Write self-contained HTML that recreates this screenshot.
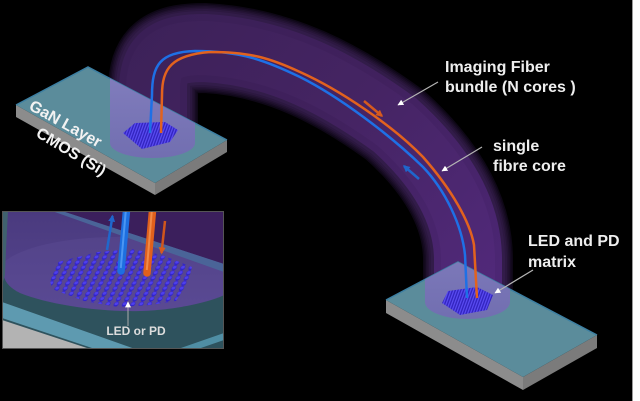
<!DOCTYPE html>
<html><head><meta charset="utf-8">
<style>
html,body{margin:0;padding:0;background:#000;}
svg{display:block;}
text{font-family:"Liberation Sans",sans-serif;font-weight:bold;}
</style></head><body>
<svg width="640" height="401" viewBox="0 0 640 401" xmlns="http://www.w3.org/2000/svg">
<defs>
<linearGradient id="tg" gradientUnits="userSpaceOnUse" x1="150" y1="0" x2="480" y2="300">
<stop offset="0" stop-color="#391f55"/><stop offset="0.5" stop-color="#41215e"/><stop offset="1" stop-color="#4c2674"/>
</linearGradient>
<linearGradient id="tg2" gradientUnits="userSpaceOnUse" x1="150" y1="0" x2="480" y2="300">
<stop offset="0" stop-color="#3c2158"/><stop offset="0.5" stop-color="#452463"/><stop offset="1" stop-color="#51297a"/>
</linearGradient>
<linearGradient id="cylg" x1="0" y1="0" x2="0" y2="1">
<stop offset="0" stop-color="#4a3a7e"/><stop offset="1" stop-color="#564690"/>
</linearGradient>
<linearGradient id="lav" x1="0" y1="0" x2="0" y2="1">
<stop offset="0" stop-color="#8a82c4"/><stop offset="1" stop-color="#736cb2"/>
</linearGradient>
<clipPath id="lp"><polygon points="88,67 227,140 155,183 16,105"/></clipPath>
<clipPath id="rp"><polygon points="458,262 597,335 523,377 386,300"/></clipPath>
<clipPath id="ic"><rect x="2" y="211" width="222" height="138"/></clipPath>
<pattern id="hatch" patternUnits="userSpaceOnUse" width="2.6" height="4" patternTransform="rotate(20)">
<rect width="2.6" height="4" fill="#3325c0"/><rect width="1.2" height="4" fill="#5a4cf2"/>
</pattern>
<pattern id="dots" patternUnits="userSpaceOnUse" width="8.3" height="5.2" patternTransform="translate(3,0) skewX(-24.7)">
<ellipse cx="4.1" cy="2.6" rx="2.4" ry="2.6" fill="#3123cc"/>
<ellipse cx="4.1" cy="2.1" rx="1.8" ry="1.5" fill="#4f40ec"/>
</pattern>
<marker id="mw" viewBox="0 0 10 10" refX="9" refY="5" markerUnits="userSpaceOnUse" markerWidth="6" markerHeight="6" orient="auto"><path d="M0,0 L10,5 L0,10 z" fill="#ffffff"/></marker>
<marker id="mo" viewBox="0 0 10 10" refX="8" refY="5" markerUnits="userSpaceOnUse" markerWidth="7" markerHeight="7" orient="auto"><path d="M0,0 L10,5 L0,10 z" fill="#d65a1e"/></marker>
<marker id="mb" viewBox="0 0 10 10" refX="8" refY="5" markerUnits="userSpaceOnUse" markerWidth="7" markerHeight="7" orient="auto"><path d="M0,0 L10,5 L0,10 z" fill="#1f66cc"/></marker>
<path id="tube" d="M153,140 L153,90 C153,55 170,48 205,48 C280,52 340,85 395,125 C445,170 468,215 468,260 L468,300" fill="none"/>
</defs>

<rect x="0" y="0" width="640" height="401" fill="#000"/>

<!-- tube (layered soft edge) -->
<g fill="none">
<use href="#tube" stroke="#0e0716" stroke-width="90"/>
<use href="#tube" stroke="#160b22" stroke-width="87"/>
<use href="#tube" stroke="#1e102c" stroke-width="84"/>
<use href="#tube" stroke="#251436" stroke-width="81"/>
<use href="#tube" stroke="#2c1840" stroke-width="78"/>
<use href="#tube" stroke="#321c49" stroke-width="74"/>
<use href="#tube" stroke="url(#tg)" stroke-width="68"/>
<use href="#tube" stroke="url(#tg2)" stroke-width="54"/>
</g>

<!-- left plate -->
<polygon points="16,105 155,183 155,195 16,117" fill="#8c8c8c"/>
<polygon points="155,183 227,140 227,152 155,195" fill="#7b7b7b"/>
<polygon points="88,67 227,140 155,183 16,105" fill="#5b8c9b"/>
<polyline points="16,105 88,67 227,140" fill="none" stroke="#3c7fa2" stroke-width="1.5"/>

<!-- right plate -->
<polygon points="386,300 523,377 523,390 386,313" fill="#8c8c8c"/>
<polygon points="523,377 597,335 597,348 523,390" fill="#7b7b7b"/>
<polygon points="458,262 597,335 523,377 386,300" fill="#5b8c9b"/>
<polyline points="386,300 458,262 597,335" fill="none" stroke="#3c7fa2" stroke-width="1.5"/>

<!-- lavender cylinder feet over plates -->
<g clip-path="url(#lp)"><path d="M110,40 L195,40 L195,143 A42.5,15 0 0 1 110,143 Z" fill="url(#lav)" opacity="0.93"/></g>
<g clip-path="url(#rp)"><path d="M425,200 L510,200 L510,302 A42.5,17 0 0 1 425,302 Z" fill="url(#lav)" opacity="0.93"/></g>

<!-- LED hexagons -->
<polygon points="123,133 135,123 165,122 178,130 170,142 142,149" fill="url(#hatch)"/>
<polygon points="442,303 448,291 477,287 493,295 487,310 460,315" fill="url(#hatch)"/>

<!-- fibers -->
<path d="M150,133 L152,95 C152,65 160,52 195,51 C240,51 265,60 300,77 C340,97 390,135 423,167 C445,190 462,225 465,255 L467,298" fill="none" stroke="#1e70e6" stroke-width="2.5"/>
<path d="M161,133 L162,95 C162,68 172,55 210,52 C250,52 270,58 300,72 C340,90 392,125 423,157 C452,190 470,222 474,245 L477,298" fill="none" stroke="#e2621e" stroke-width="2.5"/>

<!-- direction arrows on tube -->
<line x1="364" y1="101" x2="382" y2="116" stroke="#d65a1e" stroke-width="2.5" marker-end="url(#mo)"/>
<line x1="419" y1="179" x2="404" y2="166" stroke="#1f66cc" stroke-width="2.5" marker-end="url(#mb)"/>

<!-- inset -->
<g clip-path="url(#ic)">
<rect x="2" y="211" width="222" height="138" fill="#2e525d"/>
<path d="M7,211 L224,211 L224,295 C215,300 180,310 140,311 C100,312 50,305 20,293 C10,288 4,282 3,272 L4,240 Z" fill="url(#cylg)"/>
<path d="M4,262 C20,248 60,238 110,237 C160,236 200,240 224,246 L224,295 C215,300 180,310 140,311 C100,312 50,305 20,293 C10,288 4,282 3,272 Z" fill="#62529a" opacity="0.3"/>
<polygon points="62,211 224,211 224,264" fill="#3b1f5c"/>
<polygon points="52,211 62,211 224,264 224,272" fill="#4a6498"/>
<polygon points="2,211 8,211 6,250 5,275 2,285" fill="#40616e"/>
<polygon points="2,302 135,349 95,349 2,318" fill="#5e9ab0"/>
<polygon points="2,320 90,349 2,349" fill="#b3b3b3"/>
<polygon points="178,349 224,333 224,340 198,349" fill="#4f8ea4"/>
<polygon points="58,262 98,252 132,249 162,255 192,267 188,282 176,301 150,305 118,307 84,301 52,289 50,281" fill="url(#dots)"/>
<line x1="127" y1="205" x2="121" y2="271" stroke="#1d6fe0" stroke-width="7.5" stroke-linecap="round"/>
<line x1="126.3" y1="205" x2="120.8" y2="268" stroke="#4b96f2" stroke-width="2"/>
<line x1="153" y1="205" x2="147" y2="273" stroke="#e0601c" stroke-width="7.5" stroke-linecap="round"/>
<line x1="152.3" y1="205" x2="146.8" y2="270" stroke="#f08a48" stroke-width="2"/>
<line x1="107" y1="250" x2="112.5" y2="216" stroke="#1f68cc" stroke-width="2.5" marker-end="url(#mb)"/>
<line x1="165" y1="221" x2="161.5" y2="253" stroke="#d0561c" stroke-width="2.5" marker-end="url(#mo)"/>
<line x1="128" y1="326" x2="128" y2="302" stroke="#aaaaaa" stroke-width="1" marker-end="url(#mw)"/>
<text x="136" y="335" font-size="12" fill="#dddddd" text-anchor="middle">LED or PD</text>
</g>
<rect x="2.5" y="211.5" width="221" height="137" fill="none" stroke="#555" stroke-width="1"/>

<!-- plate labels -->
<text transform="translate(28,109) rotate(29)" font-size="16" fill="#f2f2f2">GaN Layer</text>
<text transform="translate(35,136) rotate(31)" font-size="16" fill="#f2f2f2">CMOS (Si)</text>

<!-- pointer lines -->
<line x1="438" y1="82" x2="398" y2="105" stroke="#b5b5b5" stroke-width="1.2" marker-end="url(#mw)"/>
<line x1="482" y1="147" x2="442" y2="171" stroke="#b5b5b5" stroke-width="1.2" marker-end="url(#mw)"/>
<line x1="533" y1="270" x2="495" y2="293" stroke="#b5b5b5" stroke-width="1.2" marker-end="url(#mw)"/>

<!-- labels -->
<text x="445" y="72" font-size="16" fill="#eeeeee">Imaging Fiber</text>
<text x="445" y="92" font-size="16" fill="#eeeeee">bundle (N cores )</text>
<text x="493" y="151" font-size="16" fill="#eeeeee">single</text>
<text x="493" y="171" font-size="16" fill="#eeeeee">fibre core</text>
<text x="528" y="246" font-size="16" fill="#eeeeee">LED and PD</text>
<text x="528" y="267" font-size="16" fill="#eeeeee">matrix</text>

<!-- right edge strip -->
<rect x="632" y="0" width="1" height="401" fill="#999"/>
<rect x="633" y="0" width="7" height="401" fill="#fff"/>
</svg>
</body></html>
